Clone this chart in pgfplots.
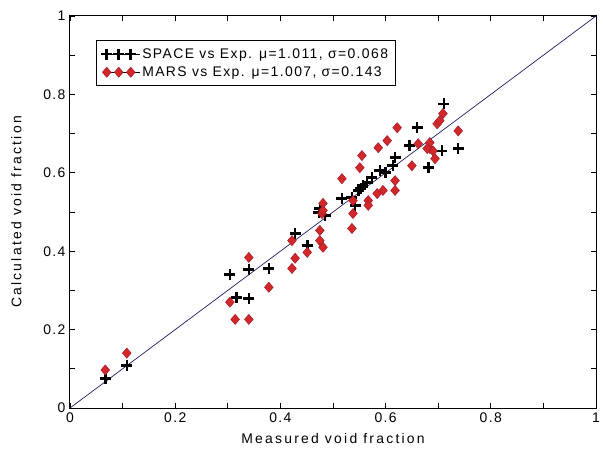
\documentclass[border=0pt]{standalone}
\usepackage{pgfplots}
\pgfplotsset{compat=1.18}
\usepackage{fontspec}
\setmainfont{Liberation Sans}
\newfontfamily\mfont[LetterSpace=10]{Liberation Sans}
\newfontfamily\lfont[LetterSpace=16]{Liberation Sans}
\definecolor{marsred}{RGB}{210,40,40}
\definecolor{marsedge}{RGB}{170,30,45}
\definecolor{diagblue}{RGB}{30,30,100}
\begin{document}
\begin{tikzpicture}
\begin{axis}[
  scale only axis, width=526bp, height=392bp,
  xmin=0, xmax=1, ymin=0, ymax=1,
  xtick={0,0.2,0.4,0.6,0.8,1}, ytick={0,0.2,0.4,0.6,0.8,1},
  minor tick num=1,
  tick align=inside, major tick length=5bp, minor tick length=5bp,
  every tick/.style={black, line width=0.8bp},
  axis line style={line width=1bp},
  /pgf/number format/assume math mode=true,
  ticklabel style={font=\mfont\fontsize{14}{16}\selectfont},
  xticklabel style={yshift=-1bp},
  yticklabel style={xshift=-1bp},
  xlabel={Measured void fraction}, ylabel={Calculated void fraction},
  label style={font=\lfont\fontsize{14}{16}\selectfont},
  xlabel style={yshift=-4bp},
  ylabel style={yshift=15bp},
  legend style={at={(0.049,0.939)}, anchor=north west, draw=black, line width=1bp,
    font=\mfont\fontsize{14}{16}\selectfont, inner xsep=5bp, inner ysep=6bp, row sep=3bp,
    cells={anchor=west}},
  legend image code/.code={%
    \path (-1bp,0bp) -- (33bp,0bp);
    \draw[#1, mark repeat=1, mark phase=1] plot coordinates {(0bp,0bp) (12bp,0bp) (24bp,0bp)};},
]
\addplot[diagblue, line width=0.7bp, forget plot] coordinates {(0,0) (1,1)};
\addplot[only marks, mark=+, mark size=5.5bp, mark options={line width=2.6bp, black}] coordinates {
(0.067,0.076) (0.108,0.109) (0.304,0.341) (0.340,0.354) (0.378,0.356)
(0.317,0.282) (0.340,0.280) (0.428,0.445) (0.451,0.415) (0.473,0.499)
(0.475,0.509) (0.485,0.491) (0.517,0.534) (0.536,0.537) (0.542,0.517)
(0.548,0.555) (0.553,0.560) (0.557,0.567) (0.565,0.575) (0.574,0.588)
(0.589,0.606) (0.600,0.600) (0.614,0.618) (0.618,0.639) (0.646,0.669)
(0.660,0.715) (0.681,0.613) (0.707,0.656) (0.711,0.776) (0.738,0.662)
};
\addlegendentry{SPACE vs Exp. μ=1.011, σ=0.068}
\addplot[only marks, mark=diamond*, mark size=5bp, mark options={fill=marsred, draw=marsedge, line width=0.6bp, xscale=1.15}] coordinates {
(0.067,0.097) (0.108,0.140) (0.304,0.270) (0.314,0.226) (0.340,0.226)
(0.340,0.384) (0.378,0.308) (0.422,0.356) (0.428,0.382) (0.422,0.427)
(0.451,0.397) (0.475,0.427) (0.481,0.410) (0.475,0.453) (0.479,0.496)
(0.481,0.522) (0.481,0.504) (0.538,0.496) (0.536,0.458) (0.517,0.585)
(0.551,0.613) (0.555,0.644) (0.586,0.664) (0.603,0.682) (0.622,0.715)
(0.538,0.529) (0.567,0.529) (0.567,0.517) (0.584,0.547) (0.595,0.555)
(0.618,0.555) (0.618,0.580) (0.650,0.618) (0.662,0.674) (0.684,0.662)
(0.684,0.677) (0.690,0.656) (0.694,0.636) (0.679,0.662) (0.698,0.725)
(0.703,0.733) (0.709,0.751) (0.738,0.707)
};
\addlegendentry{MARS vs Exp. μ=1.007, σ=0.143}
\end{axis}
\pgfresetboundingbox
\path[use as bounding box] ([xshift=-70bp,yshift=-44bp]current axis.south west) rectangle ([xshift=7bp,yshift=16bp]current axis.north east);
\end{tikzpicture}
\end{document}
